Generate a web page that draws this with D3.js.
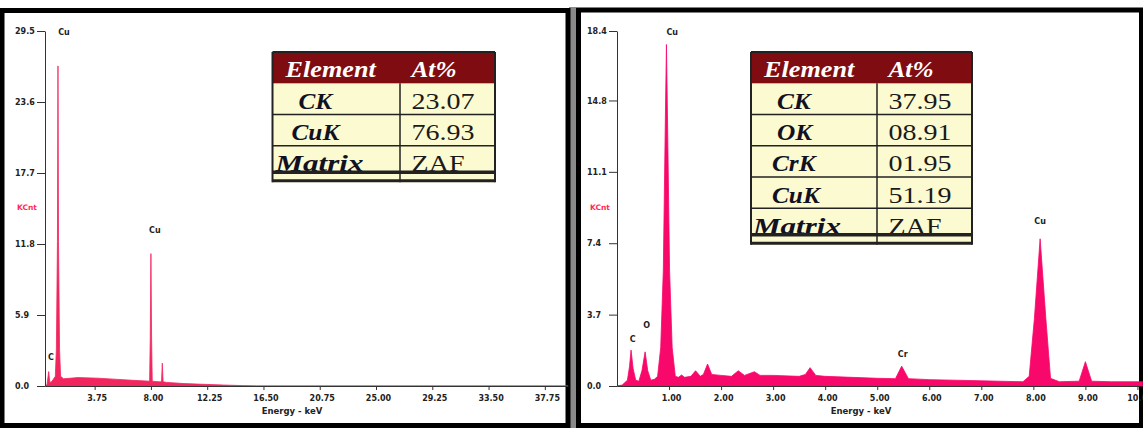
<!DOCTYPE html>
<html>
<head>
<meta charset="utf-8">
<script src="https://cdn.jsdelivr.net/npm/d3@7"></script>
<style>
  body { margin: 0; background: #fff; }
  svg { display: block; }
</style>
</head>
<body>
<div class="chart"></div>
<script>
// EDS spectra, two panels side by side, each with an At% table

// Left spectrum (energy in keV, counts in KCnt)
var leftEnergy = [0, 0.15, 0.28, 0.36, 0.5, 0.78, 0.86, 0.94, 0.98, 1.02, 1.1, 1.18, 1.4, 2.5, 4, 5.5, 7, 7.9,
  7.95, 8.0, 8.05, 8.1, 8.6, 8.8, 8.86, 8.92, 9.2, 10.5, 12, 13.5, 15, 16, 39.5];
var leftCounts = [0, 0.1, 1.2, 0.3, 0.35, 0.8, 3.1, 12, 26.6, 12, 3.0, 0.8, 0.6, 0.7, 0.65, 0.55, 0.45, 0.4,
  4, 11.0, 4, 0.4, 0.35, 0.35, 1.9, 0.35, 0.3, 0.2, 0.14, 0.08, 0.03, 0, 0];

// Right spectrum
var rightEnergy = [0, 0.1, 0.2, 0.24, 0.27, 0.31, 0.36, 0.42, 0.48, 0.54, 0.59, 0.65, 0.72, 0.78, 0.84, 0.89,
  0.93, 0.95, 0.97, 1.01, 1.06, 1.12, 1.18, 1.24, 1.3, 1.42, 1.51, 1.6, 1.66, 1.74, 1.82, 2.0, 2.2, 2.33, 2.45,
  2.64, 2.75, 3.0, 3.5, 3.62, 3.71, 3.82, 4.0, 4.5, 5.0, 5.35, 5.47, 5.6, 6.0, 7.0, 7.8, 7.92, 8.02, 8.13,
  8.24, 8.33, 8.5, 8.88, 9.0, 9.12, 9.5, 10.1];
var rightCounts = [0, 0.05, 0.3, 1.0, 1.86, 0.9, 0.3, 0.25, 0.8, 1.77, 0.8, 0.3, 0.35, 0.5, 2, 6,
  14, 17.7, 14, 6, 2, 0.5, 0.45, 0.57, 0.45, 0.5, 0.79, 0.5, 0.6, 1.14, 0.6, 0.55, 0.5, 0.79, 0.55,
  0.74, 0.55, 0.55, 0.5, 0.6, 0.95, 0.55, 0.5, 0.45, 0.4, 0.38, 1.03, 0.38, 0.33, 0.27, 0.22, 0.5, 3.5, 7.63,
  3.5, 0.4, 0.22, 0.25, 1.26, 0.25, 0.22, 0.22];

// Tick values
var leftXTicks = [3.75, 8.00, 12.25, 16.50, 20.75, 25.00, 29.25, 33.50, 37.75];
var leftYTicks = [0, 5.9, 11.8, 17.7, 23.6, 29.5];
var rightXTicks = [1, 2, 3, 4, 5, 6, 7, 8, 9, 10];
var rightYTicks = [0, 3.7, 7.4, 11.1, 14.8, 18.4];

// Peak labels (name, energy, label height in KCnt)
var leftPeakNames = ["C", "Cu", "Cu"];
var leftPeakEnergy = [0.45, 1.43, 8.3];
var leftPeakHeight = [2.15, 29.2, 12.7];
var rightPeakNames = ["C", "O", "Cu", "Cr", "Cu"];
var rightPeakEnergy = [0.3, 0.57, 1.06, 5.49, 8.13];
var rightPeakHeight = [2.3, 3.0, 18.2, 1.5, 8.4];

// Table contents
var leftElements = ["CK", "CuK", "Matrix"];
var leftAtPct = ["23.07", "76.93", "ZAF"];
var rightElements = ["CK", "OK", "CrK", "CuK", "Matrix"];
var rightAtPct = ["37.95", "08.91", "01.95", "51.19", "ZAF"];

var svgWidth = 1143;
var svgHeight = 428;
var tickFont = "DejaVu Sans";
var serif = "Liberation Serif";

var svg = d3.select(".chart")
  .append("svg")
  .attr("width", svgWidth)
  .attr("height", svgHeight);

svg.append("rect")
  .attr("width", svgWidth)
  .attr("height", svgHeight)
  .attr("fill", "#fff");

// gray gap between the two frames
svg.append("rect")
  .attr("x", 569)
  .attr("y", 7)
  .attr("width", 7)
  .attr("height", 421)
  .attr("fill", "#8a8a8a");

// Draw one spectrum panel
function drawPanel(p) {
  var g = svg.append("g");

  g.append("rect")
    .attr("x", p.frame[0])
    .attr("y", p.frame[1])
    .attr("width", p.frame[2])
    .attr("height", p.frame[3])
    .attr("fill", "#fff")
    .attr("stroke", "#000")
    .attr("stroke-width", 5);

  var x = d3.scaleLinear().domain(p.xDomain).range(p.xRange);
  var y = d3.scaleLinear().domain([0, p.yMax]).range([386, 31]);

  // spectrum as filled area
  var pts = p.energy.map(function(e, i) { return [e, p.counts[i]]; });
  var area = d3.area()
    .x(d => x(d[0]))
    .y0(y(0))
    .y1(d => y(d[1]));

  g.append("path")
    .datum(pts)
    .attr("d", area)
    .attr("fill", p.color)
    .attr("stroke", p.color)
    .attr("stroke-width", 0.8);

  // x axis
  var bottomAxis = d3.axisBottom(x)
    .tickValues(p.xTicks)
    .tickSize(4)
    .tickSizeOuter(0)
    .tickFormat(d3.format(".2f"));

  var xAxis = g.append("g")
    .attr("transform", "translate(0, 386)")
    .call(bottomAxis);
  xAxis.selectAll("text")
    .attr("dy", null)
    .attr("y", 15)
    .attr("x", 2);

  // y axis, labels left aligned
  var leftAxis = d3.axisLeft(y)
    .tickValues(p.yTicks)
    .tickSize(8)
    .tickSizeOuter(0)
    .tickFormat(d3.format(".1f"));

  var yAxis = g.append("g")
    .attr("transform", `translate(${p.xRange[0]}, 0)`)
    .call(leftAxis);
  yAxis.selectAll("text")
    .attr("x", p.yLabelX - p.xRange[0])
    .attr("text-anchor", "start");

  [xAxis, yAxis].forEach(function(a) {
    a.attr("font-family", tickFont)
      .attr("font-size", 8)
      .attr("font-weight", "bold");
    a.selectAll("text").attr("fill", "#222");
    a.selectAll("path, line").attr("stroke", "#333");
  });

  g.append("text")
    .attr("x", p.energyLabelX)
    .attr("y", 414)
    .attr("text-anchor", "middle")
    .attr("font-family", tickFont)
    .attr("font-size", 8.5)
    .attr("font-weight", "bold")
    .attr("fill", "#222")
    .text("Energy - keV");

  g.append("text")
    .attr("x", p.kcntX)
    .attr("y", 210)
    .attr("text-anchor", "middle")
    .attr("font-family", tickFont)
    .attr("font-size", 7.5)
    .attr("font-weight", "bold")
    .attr("fill", "#ff2a55")
    .text("KCnt");

  // peak labels
  g.selectAll(".peak")
    .data(p.peakNames)
    .enter()
    .append("text")
    .attr("class", "peak")
    .attr("x", (d, i) => x(p.peakEnergy[i]))
    .attr("y", (d, i) => y(p.peakHeight[i]))
    .attr("text-anchor", "middle")
    .attr("font-family", tickFont)
    .attr("font-size", 8)
    .attr("font-weight", "bold")
    .attr("fill", "#222")
    .text(d => d);
}

// Draw an element / At% table
function drawTable(t) {
  var g = svg.append("g");
  var top = 52;
  var headBottom = 83.3;
  var rowH = 31.25;
  var n = t.elements.length;
  var lastTop = headBottom + (n - 1) * rowH;
  var matrixBottom = lastTop + 26.5;

  g.append("rect")
    .attr("x", t.x0)
    .attr("y", top)
    .attr("width", t.x1 - t.x0)
    .attr("height", matrixBottom + 10 - top)
    .attr("fill", "#fcfad0");

  g.append("rect")
    .attr("x", t.x0)
    .attr("y", top)
    .attr("width", t.x1 - t.x0)
    .attr("height", headBottom - top)
    .attr("fill", "#7e0c10");

  function textAt(x, yb, str, opts) {
    g.append("text")
      .attr("transform", `translate(${x}, ${yb}) scale(${opts.sx}, 1)`)
      .attr("font-family", serif)
      .attr("font-size", 23)
      .attr("font-weight", opts.bold ? "bold" : "normal")
      .attr("font-style", opts.italic ? "italic" : "normal")
      .attr("fill", opts.fill)
      .text(str);
  }

  textAt(t.x0 + 13, 77.3, "Element", { sx: 1.14, bold: true, italic: true, fill: "#fff" });
  textAt(t.xm + 11.5, 77.3, "At%", { sx: 1.1, bold: true, italic: true, fill: "#fff" });

  t.elements.forEach(function(el, i) {
    var yb = headBottom + i * rowH + 25.5;
    textAt(t.x0 + t.indent[i], yb, el,
      { sx: el === "Matrix" ? 1.35 : 1.1, bold: true, italic: true, fill: "#111122" });
    textAt(t.xm + 11.5, yb, t.values[i], { sx: 1.22, bold: false, italic: false, fill: "#1a1a1a" });
  });

  // grid lines
  var line = function(x1, y1, x2, y2, w) {
    g.append("line")
      .attr("x1", x1).attr("y1", y1)
      .attr("x2", x2).attr("y2", y2)
      .attr("stroke", "#222")
      .attr("stroke-width", w);
  };
  line(t.x0, top, t.x1, top, 2);
  for (var i = 1; i < n; i++) {
    line(t.x0, headBottom + i * rowH, t.x1, headBottom + i * rowH, 1.5);
  }
  line(t.x0, matrixBottom, t.x1, matrixBottom, 3.5);
  line(t.x0, matrixBottom + 8.5, t.x1, matrixBottom + 8.5, 3);
  line(t.x0, top, t.x0, matrixBottom + 10, 2);
  line(t.x1, top, t.x1, matrixBottom + 10, 2);
  line(t.xm, headBottom, t.xm, matrixBottom + 10, 1.5);
}

drawPanel({
  frame: [2, 10.5, 566, 415],
  xDomain: [0, 39.5],
  xRange: [45, 568],
  yMax: 29.5,
  energy: leftEnergy,
  counts: leftCounts,
  xTicks: leftXTicks,
  yTicks: leftYTicks,
  yLabelX: 15,
  energyLabelX: 292,
  kcntX: 27,
  color: "#f2265e",
  peakNames: leftPeakNames,
  peakEnergy: leftPeakEnergy,
  peakHeight: leftPeakHeight
});

drawPanel({
  frame: [578.5, 10, 563, 415.5],
  xDomain: [0, 10.03],
  xRange: [617, 1139],
  yMax: 18.4,
  energy: rightEnergy,
  counts: rightCounts,
  xTicks: rightXTicks,
  yTicks: rightYTicks,
  yLabelX: 587,
  energyLabelX: 861,
  kcntX: 600,
  color: "#f8086a",
  peakNames: rightPeakNames,
  peakEnergy: rightPeakEnergy,
  peakHeight: rightPeakHeight
});

drawTable({ x0: 272.5, xm: 400, x1: 495, elements: leftElements, values: leftAtPct, indent: [26, 19, 3] });
drawTable({ x0: 751, xm: 877, x1: 972, elements: rightElements, values: rightAtPct, indent: [26, 26, 21, 21, 2] });
</script>
</body>
</html>
